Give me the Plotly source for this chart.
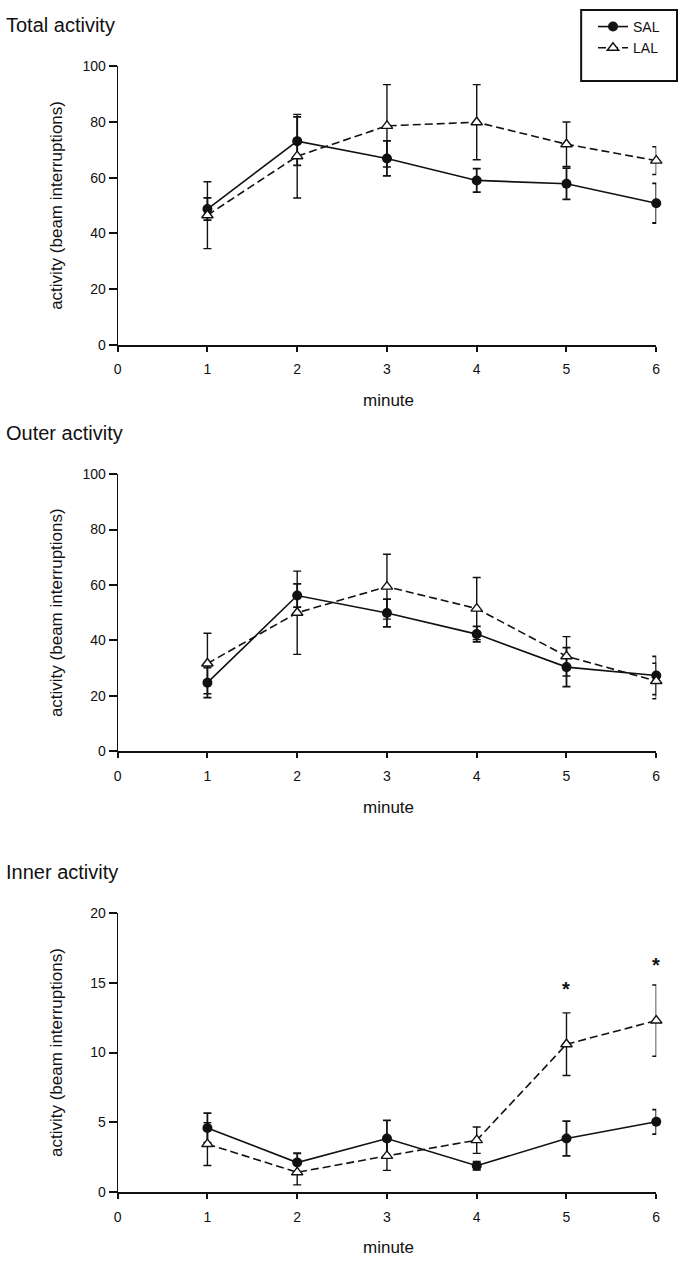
import plotly.graph_objects as go

# minutes of the open-field session
minutes = [1, 2, 3, 4, 5, 6]
x_ticks = [0, 1, 2, 3, 4, 5, 6]

# Total activity (beam interruptions), mean and SEM
total_sal = [48.7, 73.1, 66.9, 59.0, 57.8, 50.8]
total_sal_err = [4.0, 8.7, 6.3, 4.2, 5.6, 7.1]
total_lal = [46.5, 67.7, 78.6, 79.9, 72.0, 66.1]
total_lal_err = [12.0, 15.0, 14.8, 13.5, 8.0, 5.0]

# Outer activity
outer_sal = [24.8, 56.2, 49.9, 42.3, 30.4, 27.4]
outer_sal_err = [5.4, 4.2, 5.0, 2.8, 7.0, 6.9]
outer_lal = [31.7, 50.0, 59.4, 51.5, 34.3, 25.4]
outer_lal_err = [10.9, 15.0, 11.7, 11.2, 7.1, 6.4]

# Inner activity
inner_sal = [4.59, 2.1, 3.83, 1.87, 3.83, 5.03]
inner_sal_err = [1.06, 0.67, 1.3, 0.3, 1.25, 0.88]
inner_lal = [3.43, 1.4, 2.58, 3.71, 10.6, 12.3]
inner_lal_err = [1.54, 0.9, 1.04, 0.95, 2.25, 2.56]

# significance marks on the inner panel
star_minutes = [5, 6]
star_values = [14.6, 16.3]

W, H = 682, 1263
FONT = "Liberation Sans"
INK = "#111111"


def py(px):
    """Pixel row (from top) -> paper y."""
    return 1 - px / H


def px_x(px):
    return px / W


panels = [
    # title, sal, sal_err, lal, lal_err, ymax, dtick, top px, bottom px, title px, xtitle px
    ("Total activity", total_sal, total_sal_err, total_lal, total_lal_err, 100, 20, 59, 341, 17, 398),
    ("Outer activity", outer_sal, outer_sal_err, outer_lal, outer_lal_err, 100, 20, 472, 753, 430, 810),
    ("Inner activity", inner_sal, inner_sal_err, inner_lal, inner_lal_err, 20, 5, 917, 1199, 875, 1255),
]

fig = go.Figure()
annotations = []
layout_axes = {}

for i, (title, sal, sal_err, lal, lal_err, ymax, dtick, top, bottom, t_px, xt_px) in enumerate(panels):
    n = "" if i == 0 else str(i + 1)
    xa, ya = "x" + n, "y" + n

    fig.add_trace(
        go.Scatter(
            x=minutes, y=sal, name="SAL", mode="lines+markers",
            xaxis=xa, yaxis=ya, showlegend=(i == 0), cliponaxis=False,
            line={"color": INK, "width": 1.6},
            marker={"symbol": "circle", "size": 10, "color": INK},
            error_y={"type": "data", "array": sal_err, "color": INK, "thickness": 1.8, "width": 4},
        )
    )
    fig.add_trace(
        go.Scatter(
            x=minutes, y=lal, name="LAL", mode="lines+markers",
            xaxis=xa, yaxis=ya, showlegend=(i == 0), cliponaxis=False,
            line={"color": INK, "width": 1.6, "dash": "8px,4px"},
            marker={"symbol": "triangle-up", "size": 10, "color": "white",
                    "line": {"color": INK, "width": 1.4}},
            error_y={"type": "data", "array": lal_err, "color": INK, "thickness": 1.4, "width": 4},
        )
    )

    layout_axes["xaxis" + n] = dict(
        domain=[px_x(115), px_x(660)], anchor=ya, range=[0, 6],
        tickvals=x_ticks, ticks="outside", ticklen=5, tickwidth=1.5, tickcolor=INK,
        ticklabelstandoff=6,
        showline=True, linecolor=INK, linewidth=2, showgrid=False, zeroline=False,
        tickfont={"family": FONT, "size": 14, "color": INK},
    )
    layout_axes["yaxis" + n] = dict(
        domain=[py(bottom), py(top)], anchor=xa, range=[0, ymax],
        tick0=0, dtick=dtick, ticks="outside", ticklen=8, tickwidth=1.5, tickcolor=INK,
        showline=True, linecolor=INK, linewidth=1, showgrid=False, zeroline=False,
        tickfont={"family": FONT, "size": 14, "color": INK},
    )

    annotations.append(dict(
        text=title, xref="paper", yref="paper", x=0, y=py(t_px),
        xanchor="left", yanchor="middle", showarrow=False,
        font={"family": FONT, "size": 20, "color": INK},
    ))
    annotations.append(dict(
        text="minute", xref="paper", yref="paper", x=px_x(389), y=py(xt_px),
        xanchor="center", yanchor="middle", showarrow=False,
        font={"family": FONT, "size": 17, "color": INK},
    ))
    annotations.append(dict(
        text="activity (beam interruptions)", xref="paper", yref="paper",
        x=px_x(53), y=py((top + bottom) / 2), textangle=-90,
        xanchor="center", yanchor="middle", showarrow=False,
        font={"family": FONT, "size": 17, "color": INK},
    ))

for m, v in zip(star_minutes, star_values):
    annotations.append(dict(
        text="<b>*</b>", xref="x3", yref="y3", x=m, y=v, showarrow=False,
        xanchor="center", yanchor="middle",
        font={"family": FONT, "size": 20, "color": INK},
    ))

# legend frame, taller than plotly's own border
legend_box = dict(
    type="rect", xref="paper", yref="paper",
    x0=px_x(584), x1=px_x(681), y0=py(74), y1=py(2),
    line={"color": INK, "width": 2}, fillcolor="rgba(0,0,0,0)", layer="above",
)

fig.update_layout(
    width=W, height=H,
    margin={"l": 0, "r": 0, "t": 0, "b": 0},
    paper_bgcolor="white", plot_bgcolor="white",
    annotations=annotations,
    shapes=[legend_box],
    legend=dict(
        x=px_x(596), y=py(3), xanchor="left", yanchor="top",
        borderwidth=0, bgcolor="rgba(0,0,0,0)",
        font={"family": FONT, "size": 14, "color": INK},
        itemwidth=30, tracegroupgap=0,
    ),
    **layout_axes,
)

# the page body has an 8px default margin; drop it so the figure sits at 0,0
fig.write_html(
    "out.html",
    config={"displayModeBar": False},
    post_script="document.body.style.margin='0';",
)
